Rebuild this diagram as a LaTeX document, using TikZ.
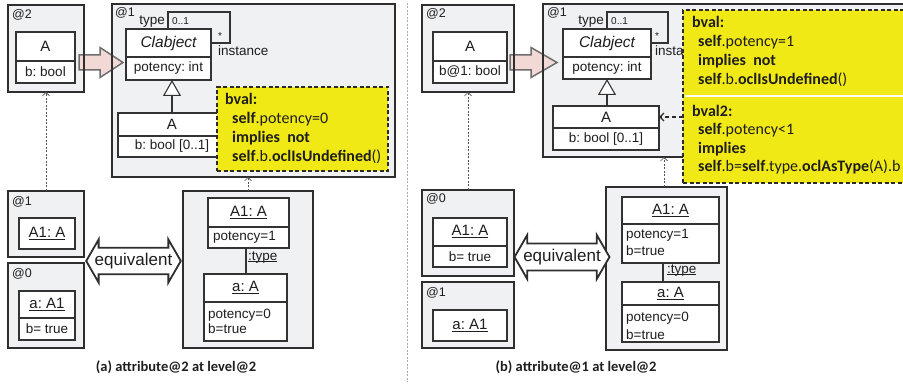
\documentclass[tikz,border=0pt]{standalone}
\usepackage{fontspec}
\setmainfont{Liberation Sans}
\newfontfamily\calfont{Carlito}
\usetikzlibrary{fit,shapes.arrows,arrows.meta,calc}

\definecolor{lvlfill}{HTML}{F0F1F3}
\definecolor{lvlline}{HTML}{2E2E2E}
\definecolor{clsline}{HTML}{333333}
\definecolor{txt}{HTML}{1E1E1E}
\definecolor{pinkfill}{HTML}{F2D9D6}
\definecolor{pinkline}{HTML}{6E6E6E}
\definecolor{noteyellow}{HTML}{F1E916}
\definecolor{noteline}{HTML}{2A2A2A}
\definecolor{dashline}{HTML}{555555}
\definecolor{sepgray}{HTML}{AAAAAA}

% underline with a firmer rule than \underline
\newcommand\uln[1]{\setbox0=\hbox{#1}\rlap{\rule[-2.4pt]{\wd0}{1.1pt}}\box0}

% a boxed compartment with its text centred inside
\newcommand\compart[4]{%
  \node[clsbox, fit={#2}] (#1) {};
  \node[#3] (#1-t) at (#1.center) {#4};}

% block arrow drawn between a tail point and a tip point (horizontal)
\newcommand\blockarrow[4]{% tail, tip, head length, name
  \coordinate (#4-a) at (#1);
  \coordinate (#4-b) at (#2);
  \draw[pinkpoly]
    ($(#4-a)+(0,-7.5)$) -- ($(#4-b)+(-#3,-7.5)$) -- ($(#4-b)+(-#3,-15)$) -- (#4-b)
    -- ($(#4-b)+(-#3,15)$) -- ($(#4-b)+(-#3,7.5)$) -- ($(#4-a)+(0,7.5)$) -- cycle;}

\tikzset{
  lvlbox/.style={draw=lvlline, line width=1.8pt, fill=lvlfill, inner sep=0pt, outer sep=0pt},
  clsbox/.style={draw=clsline, line width=1.1pt, fill=white, inner sep=0pt, outer sep=0pt},
  note/.style={draw=noteline, line width=1.3pt, dash pattern=on 4pt off 2.5pt, fill=noteyellow, inner sep=0pt, outer sep=0pt},
  lbl/.style={inner sep=0pt, anchor=base west, font=\fontsize{12.5}{14}\selectfont, text=txt},
  hdr/.style={inner sep=0pt, font=\fontsize{15}{17}\selectfont, text=txt},
  attr/.style={inner sep=0pt, font=\fontsize{13.5}{16}\selectfont, text=txt},
  small/.style={inner sep=0pt, font=\fontsize{10}{12}\selectfont, text=txt},
  ocl/.style={inner sep=0pt, anchor=base west, font=\calfont\fontsize{16}{19}\selectfont, text=txt},
  caption/.style={inner sep=0pt, font=\calfont\bfseries\fontsize{14.5}{17}\selectfont, text=txt},
  assoc/.style={draw=clsline, line width=1.1pt},
  gen/.style={draw=clsline, line width=1.1pt, -{Triangle[open, fill=white, length=16pt, width=18pt]}},
  levelarrow/.style={draw=dashline, line width=0.7pt, dash pattern=on 2pt off 1.5pt, -{Straight Barb[length=3.5pt, width=7pt]}},
  notearrow/.style={draw=noteline, line width=1.4pt, dash pattern=on 4pt off 3pt, -{Straight Barb[length=4pt, width=8pt]}},
  pinkpoly/.style={draw=pinkline, line width=1.5pt, fill=pinkfill, line join=miter},
  equiv/.style={double arrow, draw=lvlline, line width=1.8pt, fill=white, minimum width=43pt, double arrow head extend=5.5pt, double arrow tip angle=120, inner sep=0pt, font=\fontsize{17}{20}\selectfont, text=txt},
  sepline/.style={draw=sepgray, line width=0.6pt, dash pattern=on 2pt off 1.5pt},
}

\begin{document}
\begin{tikzpicture}[x=1pt,y=-1pt]
\frenchspacing
\useasboundingbox (0,0) rectangle (903,385);
\clip (0,0) rectangle (903,385);
\fill[white] (0,0) rectangle (903,385);

% divider between the two panels
\coordinate (sepT) at (407,3);
\coordinate (sepB) at (407,382);
\draw[sepline] (sepT) -- (sepB);

% =================== panel (a) ===================
\node[lvlbox, fit={(8,5) (84,92)}] (aL2) {};
\node[lbl] (aL2t) at (12,19) {@2};
\node[lvlbox, fit={(112,4) (395,177)}] (aL1) {};
\node[lbl] (aL1t) at (115,17) {@1};
\node[lvlbox, fit={(8,191) (84,257)}] (aM1) {};
\node[lbl] (aM1t) at (12,205) {@1};
\node[lvlbox, fit={(8,263) (84,348)}] (aM0) {};
\node[lbl] (aM0t) at (12,277) {@0};
\node[lvlbox, fit={(183,191) (313,348)}] (aObj) {};

% promotion arrow
\blockarrow{79,62.5}{123,62.5}{23}{aPink}
\draw[draw=lvlline, line width=1.8pt] (aL2.north east) -- (aL2.south east);
\draw[draw=lvlline, line width=1.8pt] (aL1.north west) -- (aL1.south west);

% @2 class
\compart{aAh}{(16,32) (75,61)}{hdr}{A}
\compart{aAb}{(16,61) (75,83)}{attr}{b: bool}

% @1 model
\compart{aCh}{(126,29) (211,57)}{hdr}{\fontsize{15.5}{17}\selectfont\itshape Clabject}
\compart{aCb}{(126,57) (211,80)}{attr}{potency: int}
\coordinate (aLp1) at (168,12);
\coordinate (aLp2) at (230,43);
\draw[assoc] (aCh.north -| aLp1) -- (aLp1) -| (aLp2) -- (aCh.east);
\node[attr, anchor=base east] (aTy) at (165,25) {type};
\node[small, anchor=base west] (aTm) at (172,25) {0..1};
\node[small, anchor=base west] (aSt) at (218,40) {*};
\node[attr, anchor=base west] (aIn) at (218,56) {instance};

\compart{aCAh}{(118,113) (226,136)}{hdr}{A}
\compart{aCAb}{(118,136) (226,157)}{attr}{b: bool [0..1]}
\coordinate (aG) at (172,0);
\draw[gen] (aCAh.north -| aG) -- (aCb.south -| aG);

\node[note, fit={(217,87) (388,171)}] (aNote) {};
\node[ocl] (aN1) at (225,105) {\textbf{bval:}};
\node[ocl] (aN2) at (232,124) {\textbf{self}.potency=0};
\node[ocl] (aN3) at (232,143) {\textbf{implies\ \ not}};
\node[ocl] (aN4) at (232,162) {\textbf{self}.b.\textbf{oclIsUndefined}()};

% instances
\compart{aA1}{(19,218) (75,249)}{hdr}{\uln{A1: A}}
\compart{aa1h}{(19,291) (75,318)}{hdr}{\uln{a: A1}}
\compart{aa1b}{(19,318) (75,340)}{attr}{b= true}

\node[equiv, minimum height=93pt] (aEq) at (133.5,261) {equivalent};

\compart{aO1h}{(208,198) (289,227)}{hdr}{\uln{A1: A}}
\node[clsbox, fit={(208,227) (289,248)}] (aO1b) {};
\node[attr, anchor=west] (aO1t) at ($(aO1b.west)+(5,0)$) {potency=1};
\compart{aO2h}{(204,274) (287,302)}{hdr}{\uln{a: A}}
\node[clsbox, fit={(204,302) (287,341)}] (aO2b) {};
\node[attr, anchor=west, align=left] (aO2t) at ($(aO2b.west)+(4,0)$) {potency=0\\[-1pt]b=true};
\coordinate (aLk) at (246,0);
\draw[assoc] (aO1b.south -| aLk) -- (aO2h.north -| aLk);
\node[attr, anchor=base west] (aLkt) at (248,260) {\uln{:type}};

\draw[levelarrow] (aM1.north) -- (aL2.south);
\draw[levelarrow] (aObj.north) -- (aObj.north |- aL1.south);

\node[caption] (capA) at (176,367) {(a) attribute@2 at level@2};

% =================== panel (b) ===================
\node[lvlbox, fit={(422,5) (514,92)}] (bL2) {};
\node[lbl] (bL2t) at (426,18) {@2};
\node[lvlbox, fit={(543,4) (915,157)}] (bL1) {};
\node[lbl] (bL1t) at (547,17) {@1};
\node[lvlbox, fit={(422,190) (514,276)}] (bM0) {};
\node[lbl] (bM0t) at (426,203) {@0};
\node[lvlbox, fit={(422,282) (514,348)}] (bM1) {};
\node[lbl] (bM1t) at (426,296) {@1};
\node[lvlbox, fit={(606,187) (727,350)}] (bObj) {};

\blockarrow{510,62.5}{557,62.5}{26}{bPink}
\draw[draw=lvlline, line width=1.8pt] (bL2.north east) -- (bL2.south east);
\draw[draw=lvlline, line width=1.8pt] (bL1.north west) -- (bL1.south west);

\compart{bAh}{(433,32) (507,61)}{hdr}{A}
\compart{bAb}{(433,61) (507,83)}{attr}{b@1: bool}

\compart{bCh}{(563,29) (651,57)}{hdr}{\fontsize{15.5}{17}\selectfont\itshape Clabject}
\compart{bCb}{(563,57) (651,79)}{attr}{potency: int}
\coordinate (bLp1) at (607,12);
\coordinate (bLp2) at (668,43);
\draw[assoc] (bCh.north -| bLp1) -- (bLp1) -| (bLp2) -- (bCh.east);
\node[attr, anchor=base east] (bTy) at (604,25) {type};
\node[small, anchor=base west] (bTm) at (611,25) {0..1};
\node[small, anchor=base west] (bSt) at (655,40) {*};
\node[attr, anchor=base west] (bIn) at (655,56) {instance};

\compart{bCAh}{(553,106) (659,128)}{hdr}{A}
\compart{bCAb}{(553,128) (659,150)}{attr}{b: bool [0..1]}
\coordinate (bG) at (607,0);
\draw[gen] (bCAh.north -| bG) -- (bCb.south -| bG);

\node[note, fit={(683,10) (915,183)}] (bNote) {};
\coordinate (bGap1) at (684.5,96);
\coordinate (bGap2) at (915,96);
\draw[white, line width=2.2pt] (bGap1) -- (bGap2);
\node[ocl] (bN1) at (692,28) {\textbf{bval:}};
\node[ocl] (bN2) at (698,47) {\textbf{self}.potency=1};
\node[ocl] (bN3) at (698,66) {\textbf{implies\ \ not}};
\node[ocl] (bN4) at (698,85) {\textbf{self}.b.\textbf{oclIsUndefined}()};
\node[ocl] (bN5) at (692,117) {\textbf{bval2:}};
\node[ocl] (bN6) at (698,135) {\textbf{self}.potency<1};
\node[ocl] (bN7) at (698,153.5) {\textbf{implies}};
\node[ocl] (bN8) at (698,172) {\textbf{self}.b=\textbf{self}.type.\textbf{oclAsType}(A).b};
\draw[notearrow] (bNote.west |- bCAh.east) -- (bCAh.east);

\compart{bA1h}{(433,218) (507,246)}{hdr}{\uln{A1: A}}
\compart{bA1b}{(433,246) (507,267)}{attr}{b= true}
\compart{ba1}{(433,310) (507,341)}{hdr}{\uln{a: A1}}

\node[equiv, minimum height=92pt, minimum width=44pt] (bEq) at (562,257) {equivalent};

\compart{bO1h}{(622,197) (719,224)}{hdr}{\uln{A1: A}}
\node[clsbox, fit={(622,224) (719,263)}] (bO1b) {};
\node[attr, anchor=west, align=left] (bO1t) at ($(bO1b.west)+(4,-1)$) {potency=1\\[1pt]b=true};
\compart{bO2h}{(622,282) (719,305)}{hdr}{\uln{a: A}}
\node[clsbox, fit={(622,305) (719,342)}] (bO2b) {};
\node[attr, anchor=west, align=left] (bO2t) at ($(bO2b.west)+(4,2)$) {potency=0\\[2pt]b=true};
\coordinate (bLk) at (663,0);
\draw[assoc] (bO1b.south -| bLk) -- (bO2h.north -| bLk);
\node[attr, anchor=base west] (bLkt) at (667,273) {\uln{:type}};

\draw[levelarrow] (bM0.north) -- (bL2.south);
\coordinate (bUp) at (664,0);
\draw[levelarrow] (bObj.north -| bUp) -- (bL1.south -| bUp);

\node[caption] (capB) at (576,367) {(b) attribute@1 at level@2};
\end{tikzpicture}
\end{document}
